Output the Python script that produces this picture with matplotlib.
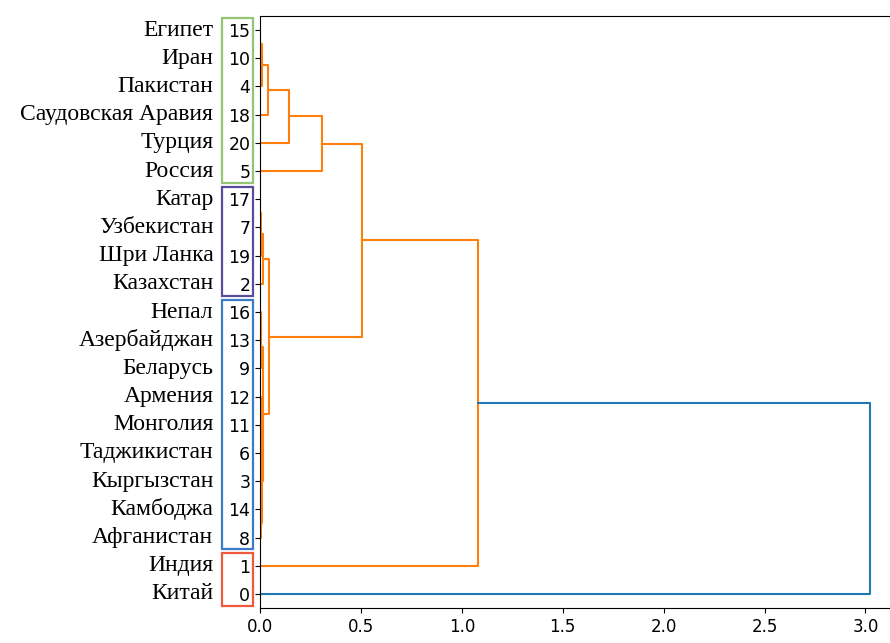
import matplotlib.pyplot as plt
from matplotlib.patches import Rectangle

# названия стран по номеру листа
names = ['Китай', 'Индия', 'Казахстан', 'Кыргызстан', 'Пакистан', 'Россия',
         'Таджикистан', 'Узбекистан', 'Афганистан', 'Беларусь', 'Иран',
         'Монголия', 'Армения', 'Азербайджан', 'Камбоджа', 'Египет', 'Непал',
         'Катар', 'Саудовская Аравия', 'Шри Ланка', 'Турция']

# матрица связей (как в scipy): левый потомок рисуется ниже
merge_left = [10, 7, 8, 3, 11, 13, 19, 4, 24, 9, 23, 31, 2, 18, 32, 20, 5, 35, 1, 0]
merge_right = [15, 17, 14, 6, 12, 16, 22, 21, 25, 26, 29, 30, 27, 28, 33, 34, 36, 37, 38, 39]
merge_height = [0.002, 0.002, 0.003, 0.003, 0.004, 0.004, 0.005, 0.008, 0.006, 0.007,
                0.009, 0.014, 0.015, 0.04, 0.045, 0.143, 0.305, 0.505, 1.08, 3.02]

# группы листов в рамках (номера листов) и цвета рамок
groups = [[15, 10, 4, 18, 20, 5], [17, 7, 19, 2],
          [16, 13, 9, 12, 11, 6, 3, 14, 8], [1, 0]]
group_colors = ['#93c572', '#5b4b9c', '#3a7cc6', '#ef5a3c']

n = len(names)
color_threshold = 0.7 * max(merge_height)

# порядок листов снизу вверх
def leaves_of(node):
    if node < n:
        return [node]
    i = node - n
    return leaves_of(merge_left[i]) + leaves_of(merge_right[i])

root = n + len(merge_height) - 1
order = leaves_of(root)
ypos = {leaf: 5 + 10 * k for k, leaf in enumerate(order)}

def node_y(node):
    if node < n:
        return ypos[node]
    i = node - n
    return (node_y(merge_left[i]) + node_y(merge_right[i])) / 2

def node_h(node):
    return 0.0 if node < n else merge_height[node - n]

fig = plt.figure(figsize=(8.9, 6.43), dpi=100)
ax = fig.add_axes([260 / 890, 35 / 643, 640 / 890, 592 / 643])

for i in range(len(merge_height)):
    a, b, h = merge_left[i], merge_right[i], merge_height[i]
    ya, yb = node_y(a), node_y(b)
    col = 'C0' if h > color_threshold else 'C1'
    ax.plot([node_h(a), h, h, node_h(b)], [ya, ya, yb, yb], color=col, lw=1.5)

ax.set_xlim(0, max(merge_height) * 1.05)
ax.set_ylim(0, 10 * n)
ax.set_yticks([ypos[l] for l in order])
ax.set_yticklabels([str(l) for l in order], fontsize=12.5)
ax.tick_params(axis='x', labelsize=12)

# названия стран слева от номеров
ytr = ax.get_yaxis_transform()
for leaf in order:
    ax.text(-0.073, ypos[leaf], names[leaf], transform=ytr, ha='right', va='center',
            fontsize=17, family='Liberation Serif')

# цветные рамки вокруг групп
for grp, c in zip(groups, group_colors):
    ys = [ypos[l] for l in grp]
    lo, hi = min(ys) - 4.2, max(ys) + 4.4
    ax.add_patch(Rectangle((-0.059, lo), 0.048, hi - lo, transform=ytr, fill=False,
                           edgecolor=c, lw=1.6, clip_on=False))

fig.savefig('out.png', dpi=100)
